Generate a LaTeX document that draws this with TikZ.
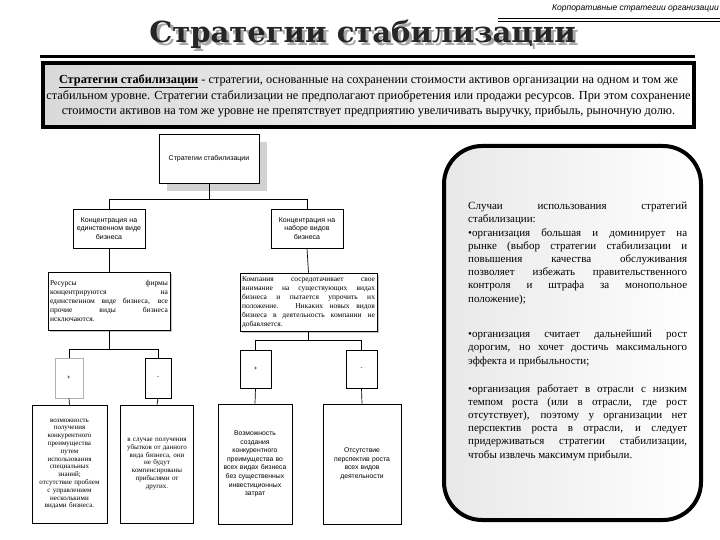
\documentclass[tikz,border=0pt]{standalone}
\usepackage{fontspec}
\setmainfont{Liberation Serif}
\setsansfont{Liberation Sans}
\newfontfamily\headfont{DejaVu Serif}
\usetikzlibrary{shadows}

\begin{document}
\begin{tikzpicture}[
    x=1pt, y=-1pt,
    chartbox/.style={draw=black, line width=0.7pt, fill=white, inner sep=1pt, align=center,
        font=\sffamily\fontsize{7}{8.3}\selectfont},
    notebox/.style={draw=black, line width=0.7pt, fill=white, inner sep=2pt, align=justify,
        font=\fontsize{7.5}{9}\selectfont,
        drop shadow={shadow xshift=2pt, shadow yshift=-2pt, fill=gray!45, opacity=1}},
    signbox/.style={draw=black, line width=0.6pt, fill=white, inner sep=0pt,
        font=\sffamily\fontsize{6}{7}\selectfont},
    leafbox/.style={draw=black, line width=0.6pt, fill=white, inner sep=1pt, align=center},
    link/.style={line width=0.7pt},
    para/.style={anchor=north west, inner sep=0pt, text width=219pt, align=justify,
        font=\fontsize{11}{13.2}\selectfont}]

    \useasboundingbox (0,0) rectangle (720,540);

    % ================= header and title =================
    \node[anchor=east, inner sep=0pt, font=\sffamily\itshape\fontsize{8.5}{10}\selectfont] (running) at (719,8)
        {Корпоративные стратегии организации};
    \draw[line width=0.6pt] (498,18.5) -- (720,18.5);
    \draw[line width=0.6pt] (498,21.5) -- (720,21.5);

    % the title carries its own gray shadow -
    \node[text=black!85, font=\headfont\bfseries\fontsize{29}{33}\selectfont] (title) at (362.5,36)
        {\rlap{\hspace{3pt}\raisebox{-3pt}{\textcolor{gray!70}{Стратегии стабилизации}}}Стратегии стабилизации};
    \draw[line width=3pt] (40,57) -- (695,57);

    % ================= the definition =================
    \path[draw=black, line width=3.5pt, left color=gray!30, right color=white] (43,63) rectangle (694,127);
    \node[align=center, inner sep=0pt, font=\fontsize{12.3}{15.5}\selectfont] (definition) at (368.5,96)
        {\underline{\textbf{Стратегии стабилизации}} - стратегии, основанные на сохранении стоимости активов организации на одном и том же\\
         стабильном уровне. Стратегии стабилизации не предполагают приобретения или продажи ресурсов. При этом сохранение\\
         стоимости активов на том же уровне не препятствует предприятию увеличивать выручку, прибыль, рыночную долю.};

    % ================= the chart =================
    \node[chartbox, minimum width=100pt, minimum height=49pt,
        drop shadow={shadow xshift=8pt, shadow yshift=-8pt, fill=gray!35, opacity=1}] (top) at (209,158.5)
        {Стратегии стабилизации};

    \node[chartbox, text width=70pt, minimum height=39pt] (single) at (109,228.5)
        {Концентрация на\\единственном виде\\бизнеса};
    \node[chartbox, text width=70pt, minimum height=39pt] (several) at (307,228.5)
        {Концентрация на\\наборе видов\\бизнеса};

    \node[notebox, text width=118pt, minimum height=58pt] (singlenote) at (109,301)
        {Ресурсы фирмы\linebreak концентрируются на\linebreak единственном виде бизнеса, все\linebreak
         прочие виды бизнеса\linebreak исключаются.};
    \node[notebox, text width=133pt, minimum height=58pt] (severalnote) at (308.5,302)
        {Компания сосредотачивает свое\linebreak внимание на существующих видах\linebreak
         бизнеса и пытается упрочить их\linebreak положение. Никаких новых видов\linebreak
         бизнеса в деятельность компании не\linebreak добавляется.};

    \node[signbox, draw=gray!60, minimum width=28pt, minimum height=40pt] (singleplus) at (69,378) {+};
    \node[signbox, minimum width=26pt, minimum height=40pt] (singleminus) at (158,378) {-};
    \node[signbox, minimum width=31pt, minimum height=38pt] (severalplus) at (255.5,369) {+};
    \node[signbox, minimum width=31pt, minimum height=38pt] (severalminus) at (361.5,369) {-};

    \node[leafbox, text width=73pt, minimum height=118pt, font=\fontsize{7}{7.8}\selectfont] (singlepro) at (69.5,464)
        {возможность\\получения\\конкурентного\\преимущества\\путем\\использования\\специальных\\знаний;\\
         отсутствие проблем\\с управлением\\несколькими\\видами бизнеса.};
    \node[leafbox, text width=71pt, minimum height=118pt, font=\fontsize{7}{7.8}\selectfont] (singlecon) at (157,464)
        {в случае получения\\убытков от данного\\вида бизнеса, они\\не будут\\компенсированы\\прибылями от\\других.};
    \node[leafbox, text width=72pt, minimum height=120pt, font=\sffamily\fontsize{6.8}{8.6}\selectfont] (severalpro) at (255,464)
        {Возможность\\создания\\конкурентного\\преимущества во\\всех видах бизнеса\\без существенных\\инвестиционных\\затрат};
    \node[leafbox, text width=76pt, minimum height=120pt, font=\sffamily\fontsize{6.8}{8.6}\selectfont] (severalcon) at (362,464)
        {Отсутствие\\перспектив роста\\всех видов\\деятельности};

    % the tree is joined with elbow lines -
    \draw[link] (top.south) -- ++(0,16) -| (single.north);
    \draw[link] (top.south) -- ++(0,16) -| (several.north);
    \draw[link] (single.south) -- (singlenote.north);
    \draw[link] (several.south) -- (severalnote.north);
    \draw[link] (singlenote.south) -- ++(0,19) -| (singleplus.north);
    \draw[link] (singlenote.south) -- ++(0,19) -| (singleminus.north);
    \draw[link] (severalnote.south) -- ++(0,9) -| (severalplus.north);
    \draw[link] (severalnote.south) -- ++(0,9) -| (severalminus.north);
    \draw[link] (singleplus.south) -- (singlepro.north);
    \draw[link] (singleminus.south) -- (singlecon.north);
    \draw[link] (severalplus.south) -- (severalpro.north);
    \draw[link] (severalminus.south) -- (severalcon.north);

    % ================= the cases =================
    \path[draw=black, line width=4pt, rounded corners=38pt, left color=gray!18, right color=white]
        (444,146) rectangle (701,520);

    \node[para] (cases) at (468,202)
        {Случаи использования стратегий\linebreak стабилизации:\\
         •организация большая и доминирует на\linebreak рынке (выбор стратегии стабилизации и\linebreak
         повышения качества обслуживания\linebreak позволяет избежать правительственного\linebreak
         контроля и штрафа за монопольное\linebreak положение);};
    \node[para] (costly) at (468,330)
        {•организация считает дальнейший рост\linebreak дорогим, но хочет достичь максимального\linebreak
         эффекта и прибыльности;};
    \node[para] (slowgrowth) at (468,384)
        {•организация работает в отрасли с низким\linebreak темпом роста (или в отрасли, где рост\linebreak
         отсутствует), поэтому у организации нет\linebreak перспектив роста в отрасли, и следует\linebreak
         придерживаться стратегии стабилизации,\linebreak чтобы извлечь максимум прибыли.};
\end{tikzpicture}
\end{document}
